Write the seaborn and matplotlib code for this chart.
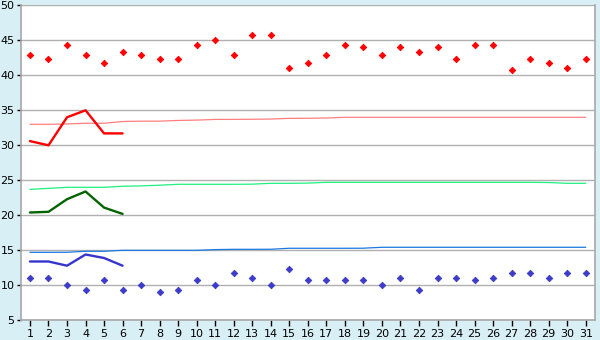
import matplotlib
matplotlib.use("Agg")
import matplotlib.pyplot as plt
import seaborn as sns
import pandas as pd
import numpy as np

days = list(range(1, 32))

max_points = [42.9, 42.3, 44.4, 42.9, 41.7, 43.4, 42.9, 42.3, 42.3, 44.4,
              45.0, 42.9, 45.7, 45.7, 41.1, 41.7, 42.9, 44.4, 44.0, 42.9,
              44.0, 43.4, 44.0, 42.3, 44.4, 44.4, 40.7, 42.3, 41.7, 41.1, 42.3]
min_points = [11.1, 11.1, 10.0, 9.4, 10.7, 9.4, 10.0, 9.0, 9.4, 10.7,
              10.0, 11.7, 11.1, 10.0, 12.3, 10.7, 10.7, 10.7, 10.7, 10.0,
              11.1, 9.4, 11.1, 11.1, 10.7, 11.1, 11.7, 11.7, 11.1, 11.7, 11.7]

cur_days = [1, 2, 3, 4, 5, 6]
cur_max = [30.6, 30.0, 34.0, 35.0, 31.7, 31.7]
cur_mean = [20.4, 20.5, 22.3, 23.4, 21.1, 20.2]
cur_min = [13.4, 13.4, 12.8, 14.4, 13.9, 12.8]

norm_max = [33.0, 33.0, 33.05, 33.15, 33.15, 33.4, 33.45, 33.45, 33.55, 33.6,
            33.7, 33.7, 33.72, 33.75, 33.85, 33.86, 33.9, 34.0, 34.0, 34.0,
            34.0, 34.0, 34.0, 34.0, 34.0, 34.0, 34.0, 34.0, 34.0, 34.0, 34.0]
norm_mean = [23.7, 23.85, 24.0, 24.0, 24.0, 24.15, 24.2, 24.3, 24.43, 24.43,
             24.43, 24.43, 24.45, 24.57, 24.57, 24.6, 24.71, 24.71, 24.71, 24.71,
             24.71, 24.71, 24.71, 24.71, 24.71, 24.71, 24.71, 24.71, 24.68, 24.57, 24.57]
norm_min = [14.71, 14.71, 14.72, 14.86, 14.86, 15.0, 15.0, 15.0, 15.0, 15.0,
            15.1, 15.14, 15.14, 15.15, 15.29, 15.29, 15.29, 15.29, 15.3, 15.43,
            15.43, 15.43, 15.43, 15.43, 15.43, 15.43, 15.43, 15.43, 15.43, 15.43, 15.43]

y_ticks = [5, 10, 15, 20, 25, 30, 35, 40, 45, 50]

sns.set_theme(style="white")
plt.rcParams['font.family'] = ['DejaVu Sans']

fig = plt.figure(figsize=(6, 3.4), dpi=100, facecolor="#d9eff6")
ax = fig.add_axes([20.7 / 600, 1 - 320.3 / 340, (595 - 20.7) / 600, (320.3 - 5.3) / 340])
ax.set_facecolor("white")

df_norm = pd.DataFrame({"day": days, "nmax": norm_max, "nmean": norm_mean, "nmin": norm_min,
                        "pmax": max_points, "pmin": min_points})
df_cur = pd.DataFrame({"day": cur_days, "cmax": cur_max, "cmean": cur_mean, "cmin": cur_min})

for y in y_ticks:
    ax.axhline(y, color="#b0b0b0", lw=1.0, zorder=0)

sns.lineplot(data=df_norm, x="day", y="nmax", ax=ax, color="#ff7f7f", lw=0.9, zorder=2)
sns.lineplot(data=df_norm, x="day", y="nmean", ax=ax, color="#1ff07f", lw=0.9, zorder=2)
sns.lineplot(data=df_norm, x="day", y="nmin", ax=ax, color="#1a78e0", lw=0.9, zorder=2)

sns.lineplot(data=df_cur, x="day", y="cmax", ax=ax, color="#ff0000", lw=1.7, zorder=3)
sns.lineplot(data=df_cur, x="day", y="cmean", ax=ax, color="#006400", lw=1.7, zorder=3)
sns.lineplot(data=df_cur, x="day", y="cmin", ax=ax, color="#3535cc", lw=1.7, zorder=3)

sns.scatterplot(data=df_norm, x="day", y="pmax", ax=ax, color="#ff0000", marker="D", s=11,
                linewidth=0.6, edgecolor="#ff0000", zorder=4)
sns.scatterplot(data=df_norm, x="day", y="pmin", ax=ax, color="#3c3cc8", marker="D", s=11,
                linewidth=0.6, edgecolor="#3c3cc8", zorder=4)

ax.set_xlim(0.5, 31.5)
ax.set_ylim(5, 50)
ax.set_xticks(days)
ax.set_xticklabels([str(d) for d in days])
ax.set_yticks(y_ticks)
ax.set_yticklabels([str(v) for v in y_ticks])
ax.set_xlabel("")
ax.set_ylabel("")

for side in ["left", "bottom", "right", "top"]:
    ax.spines[side].set_visible(True)
    ax.spines[side].set_color("#a8a8a8")
    ax.spines[side].set_linewidth(1.2)
ax.spines["top"].set_visible(False)

ax.tick_params(axis="both", which="major", direction="out", color="black",
               labelsize=8, labelcolor="black", width=1)
ax.tick_params(axis="x", length=4, pad=2)
ax.tick_params(axis="y", length=3, pad=1.5)
ax.tick_params(left=True, bottom=True)

fig.savefig("out.png", dpi=100, facecolor=fig.get_facecolor())
